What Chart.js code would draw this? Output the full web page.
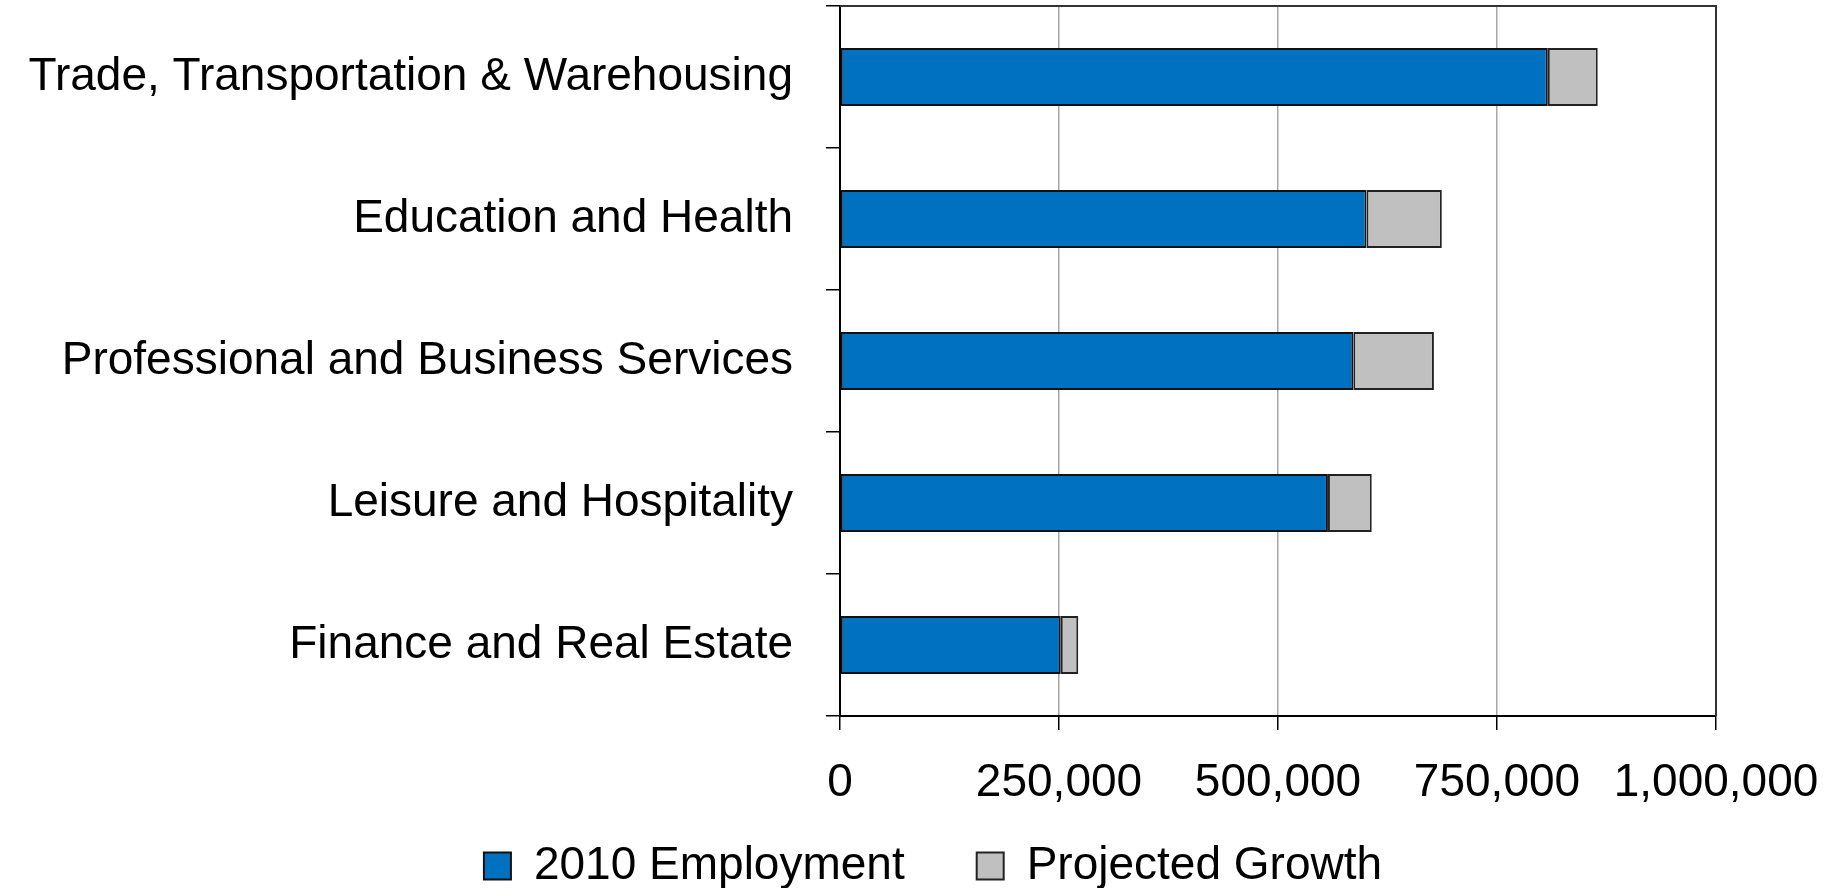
<!DOCTYPE html>
<html>
<head>
<meta charset="utf-8">
<script src="https://cdn.jsdelivr.net/npm/chart.js@4/dist/chart.umd.min.js"></script>
<style>
  html, body { margin: 0; padding: 0; background: #fff; }
  #wrap { width: 1843px; height: 888px; }
</style>
</head>
<body>
<div id="wrap"><canvas id="chart" width="1843" height="888"></canvas></div>
<script>
// data
const categories = [
    'Trade, Transportation & Warehousing',
    'Education and Health',
    'Professional and Business Services',
    'Leisure and Hospitality',
    'Finance and Real Estate'
];
const employment2010 = [808000, 601000, 586000, 557000, 252000];
const projectedGrowth = [57000, 86000, 92000, 50000, 20000];
const xTickValues = [0, 250000, 500000, 750000, 1000000];
const xTickLabels = ['0', '250,000', '500,000', '750,000', '1,000,000'];

const FONT = "'Liberation Sans', Arial, sans-serif";

// top + right frame of the plot area
const frame = {
    id: 'frame',
    afterDraw(chart) {
        const a = chart.chartArea;
        const ctx = chart.ctx;
        ctx.save();
        ctx.strokeStyle = '#333';
        ctx.lineWidth = 2;
        ctx.beginPath();
        ctx.moveTo(a.left, a.top);
        ctx.lineTo(a.right, a.top);
        ctx.lineTo(a.right, a.bottom);
        ctx.stroke();
        ctx.restore();
    }
};

// legend sits a bit higher and is centred under the whole picture
const legendSpot = {
    id: 'legendSpot',
    afterLayout(chart) {
        const lg = chart.legend;
        lg.top = 771;
        lg.bottom = 960;   // legend clips to its own box
        lg.left += 75;
        lg.right += 75;
    }
};

new Chart(document.getElementById('chart'), {
    type: 'bar',
    data: {
        labels: categories,
        datasets: [{
            label: '2010 Employment',
            data: employment2010,
            backgroundColor: '#0070C0',
            borderColor: '#111',
            borderWidth: 2,
            borderSkipped: false,
            categoryPercentage: 1,
            barPercentage: 0.41
        }, {
            label: 'Projected Growth',
            data: projectedGrowth,
            backgroundColor: '#C0C0C0',
            borderColor: '#222',
            borderWidth: 2,
            borderSkipped: false,
            categoryPercentage: 1,
            barPercentage: 0.41
        }]
    },
    options: {
        indexAxis: 'y',
        responsive: false,
        animation: false,
        layout: { padding: { top: 6, left: 0, right: 127, bottom: 0 } },
        plugins: {
            tooltip: { enabled: false },
            legend: {
                position: 'bottom',
                maxHeight: 83,
                labels: {
                    color: '#000',
                    font: { family: FONT, size: 46 },
                    boxWidth: 27,
                    boxHeight: 27,
                    padding: 72
                }
            }
        },
        scales: {
            x: {
                stacked: true,
                min: 0,
                max: 1000000,
                afterBuildTicks(scale) {
                    scale.ticks = xTickValues.map(v => ({ value: v }));
                },
                afterFit(scale) {
                    scale.height = 89;
                    scale.paddingLeft = 0;
                    scale.paddingRight = 0;
                },
                ticks: {
                    color: '#000',
                    font: { family: FONT, size: 46 },
                    padding: 26,
                    maxRotation: 0,
                    callback: (v, i) => xTickLabels[i]
                },
                grid: {
                    color: '#a6a6a6',
                    lineWidth: 1.5,
                    tickColor: '#000',
                    tickLength: 14
                },
                border: { color: '#000', width: 2 }
            },
            y: {
                stacked: true,
                afterFit(scale) {
                    scale.width = 840;
                    scale.paddingTop = 0;
                    scale.paddingBottom = 0;
                },
                ticks: {
                    color: '#000',
                    font: { family: FONT, size: 46 },
                    padding: 33,
                    autoSkip: false
                },
                grid: {
                    drawOnChartArea: false,
                    tickColor: '#000',
                    tickLength: 14,
                    lineWidth: 1.5
                },
                border: { color: '#000', width: 2 }
            }
        }
    },
    plugins: [frame, legendSpot]
});
</script>
</body>
</html>
